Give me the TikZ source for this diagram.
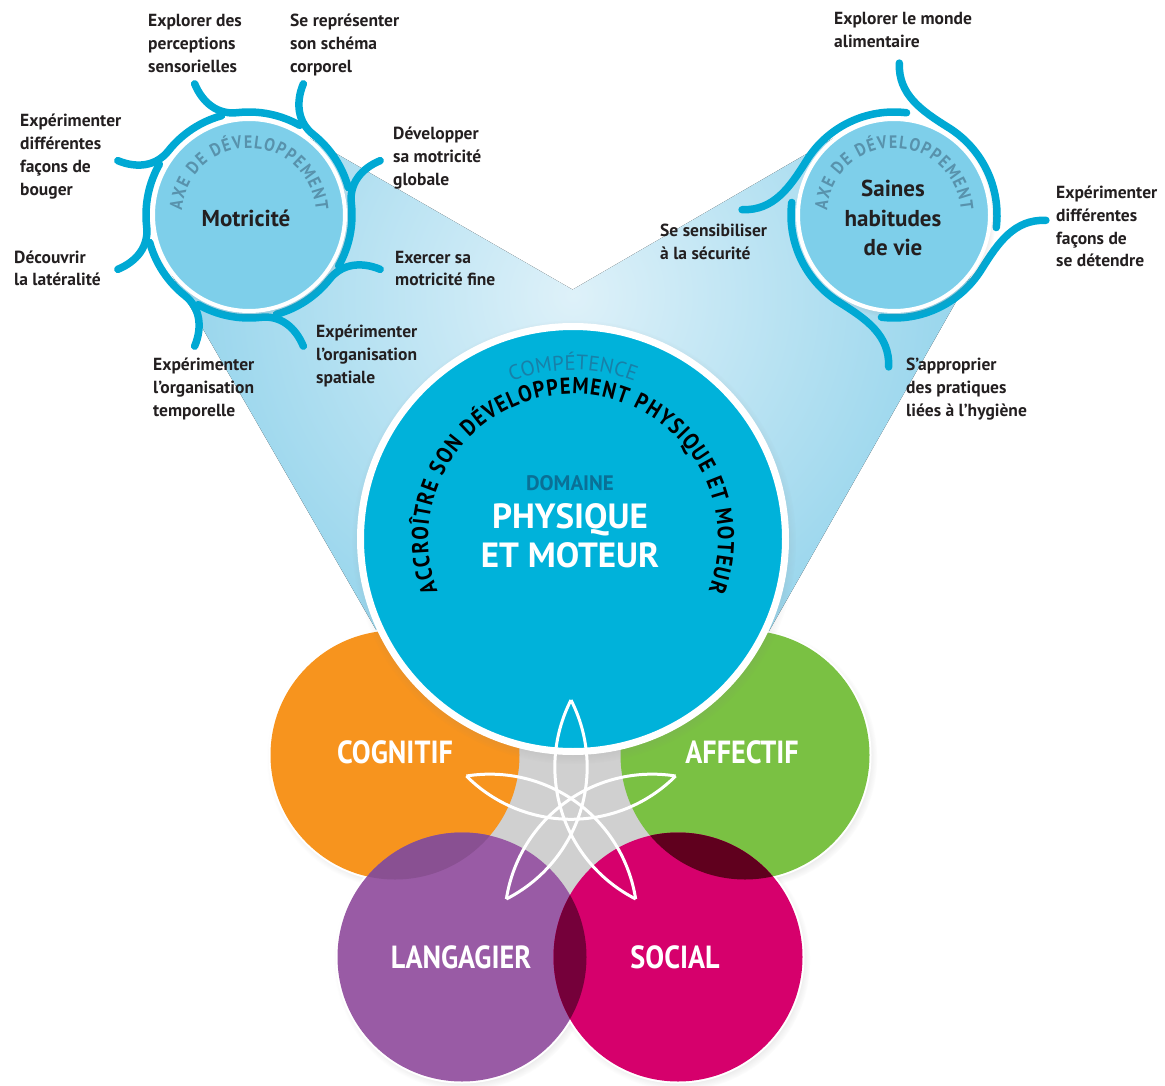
\documentclass[tikz,border=0pt]{standalone}
\usepackage{fontspec}
\setmainfont{PT Sans}
\newfontfamily\condfont[FakeStretch=0.88]{PT Sans}
\usetikzlibrary{calc,shadows,decorations.text}

\definecolor{bigblue}{RGB}{0,178,218}
\definecolor{smallblue}{RGB}{126,207,234}
\definecolor{armblue}{RGB}{0,169,212}
\definecolor{beamblue}{RGB}{128,204,232}
\definecolor{beampale}{RGB}{222,241,249}
\definecolor{axetext}{RGB}{88,146,172}
\definecolor{comptext}{RGB}{24,128,168}
\definecolor{domtext}{RGB}{10,112,150}
\definecolor{labeltext}{RGB}{35,31,32}
\definecolor{cogorange}{RGB}{247,148,30}
\definecolor{affgreen}{RGB}{122,193,67}
\definecolor{lanpurple}{RGB}{153,91,165}
\definecolor{socmagenta}{RGB}{214,0,108}
\definecolor{lancog}{RGB}{137,80,146}
\definecolor{socaff}{RGB}{96,0,30}
\definecolor{lansoc}{RGB}{117,0,58}
\definecolor{centergray}{RGB}{208,208,208}

\newcommand{\labelfont}{\fontsize{17.5}{23}\selectfont\bfseries}
\newcommand{\axefont}{\condfont\bfseries\fontsize{18}{18}\selectfont}
\newcommand{\circfont}{\condfont\bfseries\fontsize{32}{32}\selectfont}
\newcommand{\compfont}{\fontsize{21}{21}\selectfont}
\newcommand{\accfont}{\condfont\bfseries\fontsize{23}{23}\selectfont}

\tikzset{
  labeltxt/.style={anchor=base west, align=left, inner sep=0pt, text=labeltext, font=\labelfont},
  axetitle/.style={anchor=base, align=center, inner sep=0pt, text=labeltext,
    font=\fontsize{23}{29.5}\selectfont\bfseries},
  arm/.style={draw=armblue, line width=7.5pt, line cap=round},
  axedisc/.style={fill=smallblue, draw=white, line width=4pt,
    circular drop shadow={shadow xshift=2pt, shadow yshift=-3pt, shadow scale=1.04, opacity=.35}},
  bigdisc/.style={fill=bigblue, draw=white, line width=7pt,
    circular drop shadow={shadow xshift=1pt, shadow yshift=-3pt, shadow scale=1.045, opacity=.4}},
  domainlbl/.style={anchor=base, inner sep=0pt, text=white, font=\circfont},
  starline/.style={draw=white, line width=3pt},
}

\begin{document}
\begin{tikzpicture}[x=1pt, y=1pt]
	\useasboundingbox (0,0) rectangle (1165,-1086);
	\coordinate (big) at (573,-539);
	\coordinate (mot) at (249,-215);
	\coordinate (hab) at (894,-215);
	\coordinate (cog) at (395,-755);
	\coordinate (aff) at (745,-755);
	\coordinate (lan) at (462,-957);
	\coordinate (soc) at (678,-957);
	\coordinate (star) at (571,-810);
	
	% faisceaux
	\begin{scope}
		\clip (297,-131) -- (681,-352) -- (386,-647) -- (165,-263) -- cycle
		      (846,-131) -- (978,-263) -- (760,-647) -- (465,-352) -- cycle;
		\fill[inner color=beampale, outer color=beamblue] (573,-295) circle[radius=520];
	\end{scope}
	
	% domaines
	\foreach \n in {cog,aff,lan,soc}{
		\path[circular drop shadow={shadow xshift=2pt, shadow yshift=-3pt, shadow scale=1.03, opacity=.35}] (\n) circle[radius=126.5];
	}
	\foreach \n in {cog,aff,lan,soc}{
		\draw[white, line width=3pt] (\n) circle[radius=125];
	}
	\fill[centergray] (cog) -- (big) -- (aff) -- (soc) -- (lan) -- cycle;
	\fill[cogorange] (cog) circle[radius=124.5];
	\fill[affgreen] (aff) circle[radius=124.5];
	\fill[lanpurple] (lan) circle[radius=124.5];
	\fill[socmagenta] (soc) circle[radius=124.5];
	\begin{scope}
		\clip (lan) circle[radius=124.5];
		\fill[lancog] (cog) circle[radius=124.5];
		\fill[lansoc] (soc) circle[radius=124.5];
	\end{scope}
	\begin{scope}
		\clip (soc) circle[radius=124.5];
		\fill[socaff] (aff) circle[radius=124.5];
	\end{scope}
	\node[domainlbl] (cognitif) at (395,-763) {COGNITIF};
	\node[domainlbl] (affectif) at (742,-763) {AFFECTIF};
	\node[domainlbl] (langagier) at (461,-968) {LANGAGIER};
	\node[domainlbl] (social) at (675,-968) {SOCIAL};
	
	\draw[bigdisc] (big) circle[radius=212.5];
	
	\foreach \k in {0,...,4}{
		\coordinate (t\k) at ($(star)+(90-72*\k:110)$);
	}
	\foreach \k/\j in {0/2,1/3,2/4,3/0,4/1}{
		\draw[starline] (t\k) to[bend right=45] (t\j);
	}
	
	\path[decorate, decoration={text along path, text align=center, text color=comptext,
		text={|\compfont|COMPÉTENCE}}]
		($(big)+(150:169)$) arc[start angle=150, end angle=30, radius=169];
	\path[decorate, decoration={text along path, text align={fit to path}, text color=black,
		text={|\accfont|ACCROÎTRE SON DÉVELOPPEMENT PHYSIQUE ET MOTEUR}}]
		($(big)+(201:145)$) arc[start angle=201, end angle=-21, radius=145];
	\node[anchor=base, inner sep=0pt, text=domtext, font=\fontsize{21}{21}\selectfont\bfseries] (domaine) at (570,-490) {DOMAINE};
	\node[anchor=base, align=center, inner sep=0pt, text=white, font=\fontsize{35}{39}\selectfont\bfseries] (physique) at (570,-567) {PHYSIQUE\\ET MOTEUR};
	
	% axes de developpement
	\foreach \a [evaluate=\a as \o using \a+180, evaluate=\a as \i using \a+74,
	             evaluate=\a as \s using \a-16, evaluate=\a as \e using \a-52]
	    in {112.5,67.5,22.5,-22.5,-67.5,-112.5,-157.5,157.5}{
		\draw[arm] ($(mot)+(\a:142)$) to[out=\o, in=\i] ($(mot)+(\s:103)$)
			arc[start angle=\s, end angle=\e, radius=103];
	}
	\foreach \a [evaluate=\a as \o using \a+180, evaluate=\a as \i using \a+60,
	             evaluate=\a as \s using \a-30, evaluate=\a as \e using \a-95]
	    in {88,-2,-92,178}{
		\draw[arm] ($(hab)+(\a:152)$) to[out=\o, in=\i] ($(hab)+(\s:103)$)
			arc[start angle=\s, end angle=\e, radius=103];
	}
	\draw[axedisc] (mot) circle[radius=96];
	\draw[axedisc] (hab) circle[radius=96];
	\foreach \n in {mot,hab}{
		\path[decorate, decoration={text along path, text align={fit to path}, text color=axetext,
			text={|\axefont|AXE DE DÉVELOPPEMENT}}]
			($(\n)+(176:67)$) arc[start angle=176, end angle=4, radius=67];
	}
	\node[axetitle] (motricite) at (246,-227) {Motricité};
	\node[axetitle] (saines) at (893,-256) {Saines\\habitudes\\de vie};
	
	\node[labeltxt] (perceptions) at (148,-73) {Explorer des\\perceptions\\sensorielles};
	\node[labeltxt] (schema) at (290,-73) {Se représenter\\son schéma\\corporel};
	\node[labeltxt] (bouger) at (20,-196) {Expérimenter\\différentes\\façons de\\bouger};
	\node[labeltxt] (globale) at (393,-186) {Développer\\sa motricité\\globale};
	\node[labeltxt] (lateralite) at (14,-286) {Découvrir\\la latéralité};
	\node[labeltxt] (fine) at (395,-286) {Exercer sa\\motricité fine};
	\node[labeltxt] (spatiale) at (316,-383) {Expérimenter\\l’organisation\\spatiale};
	\node[labeltxt] (temporelle) at (153,-416) {Expérimenter\\l’organisation\\temporelle};
	\node[labeltxt] (alimentaire) at (834,-48) {Explorer le monde\\alimentaire};
	\node[labeltxt] (detendre) at (1056,-267) {Expérimenter\\différentes\\façons de\\se détendre};
	\node[labeltxt] (securite) at (660,-260) {Se sensibiliser\\à la sécurité};
	\node[labeltxt] (hygiene) at (906,-416) {S’approprier\\des pratiques\\liées à l’hygiène};
\end{tikzpicture}
\end{document}
